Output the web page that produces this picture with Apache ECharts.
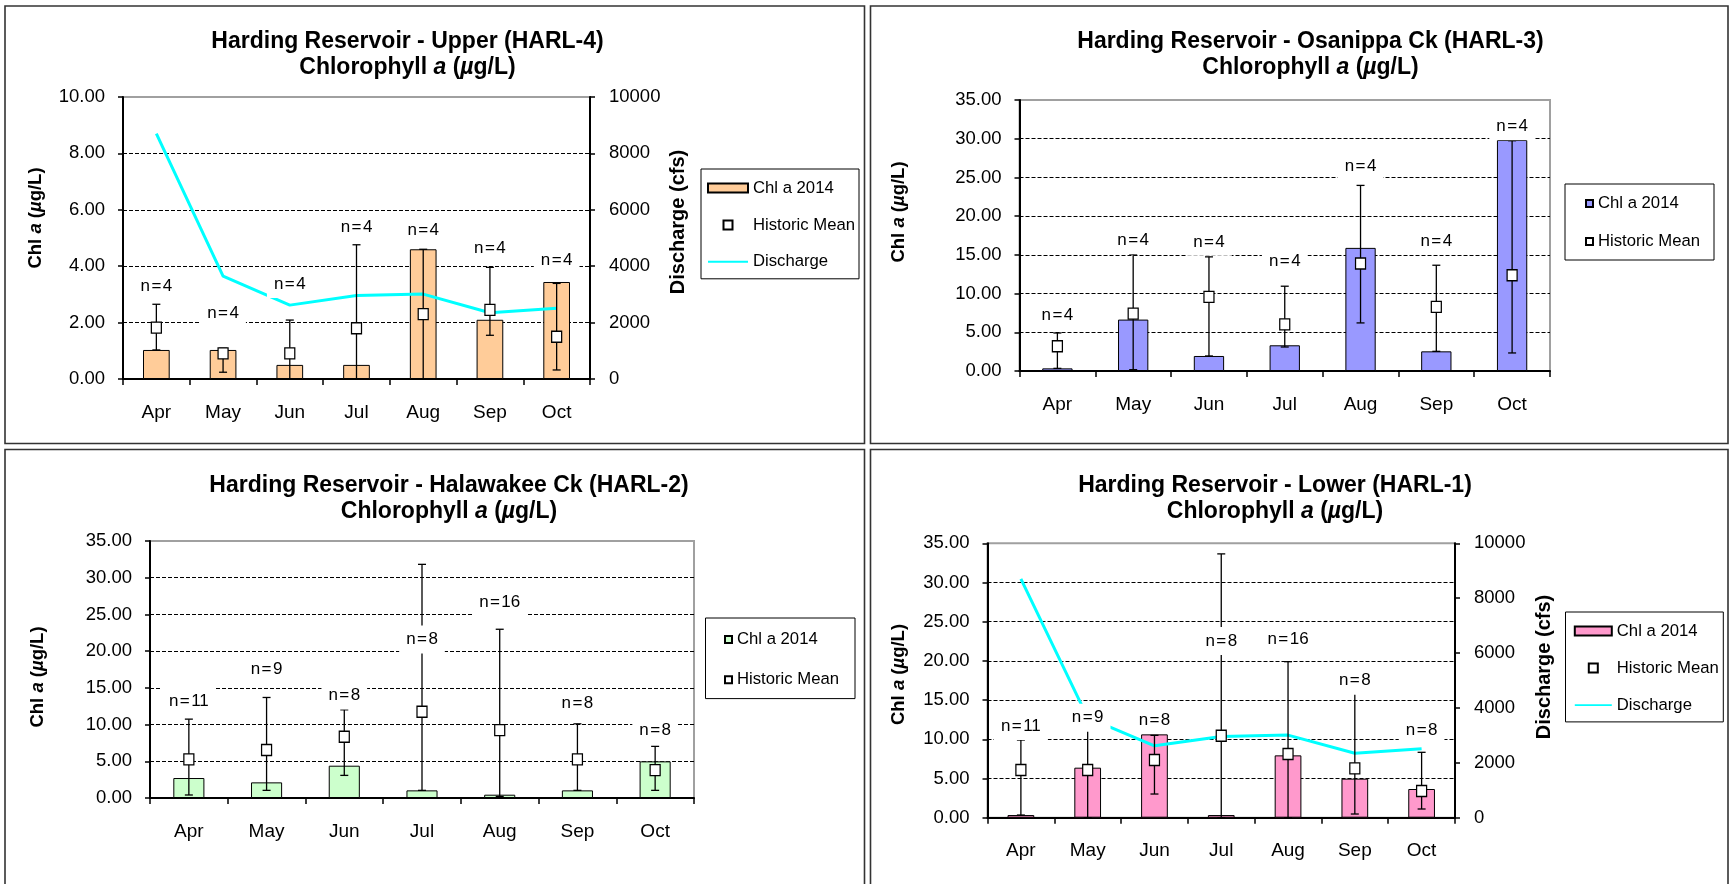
<!DOCTYPE html>
<html>
<head>
<meta charset="utf-8">
<title>Harding Reservoir Chlorophyll a</title>
<script src="https://cdn.jsdelivr.net/npm/echarts@6/dist/echarts.min.js"></script>
<style>
  html, body { margin: 0; padding: 0; background: #fff; }
  #chart { width: 1730px; height: 884px; }
</style>
</head>
<body>
<div id="chart"></div>
<script>
// ---- data -------------------------------------------------------------
const months = ['Apr', 'May', 'Jun', 'Jul', 'Aug', 'Sep', 'Oct'];

// Monthly discharge (cfs) shown on the Upper and Lower station charts
const discharge = [8700, 3650, 2620, 2960, 3010, 2350, 2510];

// HARL-4  Upper
const harl4Chl     = [1.03, 1.03, 0.50, 0.50, 4.60, 2.10, 3.44];
const harl4Mean    = [1.82, 0.91, 0.91, 1.80, 2.30, 2.45, 1.50];
const harl4Min     = [1.03, 0.24, 0.00, 0.00, 0.00, 1.55, 0.32];
const harl4Max     = [2.65, 1.09, 2.09, 4.76, 4.60, 3.96, 3.39];
const harl4N       = [4, 4, 4, 4, 4, 4, 4];
const harl4NAt     = [3.27, 2.34, 3.37, 5.38, 5.29, 4.62, 4.22];

// HARL-3  Osanippa Ck
const harl3Chl     = [0.34, 6.64, 1.94, 3.32, 15.90, 2.54, 29.83];
const harl3Mean    = [3.19, 7.41, 9.57, 6.03, 13.88, 8.28, 12.37];
const harl3Min     = [0.34, 0.17, 1.94, 3.10, 6.21, 2.54, 2.33];
const harl3Max     = [4.91, 15.09, 14.74, 10.95, 23.97, 13.66, 29.74];
const harl3N       = [4, 4, 4, 4, 4, 4, 4];
const harl3NAt     = [7.2, 16.9, 16.68, 14.22, 26.5, 16.8, 31.6];

// HARL-2  Halawakee Ck
const harl2Chl     = [2.72, 2.13, 4.40, 1.04, 0.45, 1.04, 4.99];
const harl2Mean    = [5.26, 6.53, 8.34, 11.74, 9.25, 5.26, 3.80];
const harl2Min     = [0.41, 1.04, 3.08, 1.04, 0.20, 1.04, 1.04];
const harl2Max     = [10.74, 13.69, 12.01, 31.82, 22.98, 10.10, 7.03];
const harl2N       = [11, 9, 8, 8, 16, 8, 8];
const harl2NAt     = [13.1, 17.54, 13.96, 21.6, 26.7, 12.95, 9.2];

// HARL-1  Lower
const harl1Chl     = [0.34, 6.38, 10.63, 0.34, 7.95, 4.98, 3.66];
const harl1Mean    = [6.08, 6.08, 7.36, 10.46, 8.12, 6.30, 3.40];
const harl1Min     = [0.34, 0.00, 3.02, 0.00, 0.00, 0.47, 1.11];
const harl1Max     = [9.91, 11.40, 10.50, 33.65, 19.90, 15.87, 8.34];
const harl1N       = [11, 9, 8, 8, 16, 8, 8];
const harl1NAt     = [11.7, 12.76, 12.46, 22.54, 22.8, 17.48, 11.19];

const leftTicks  = { small: { max: 10, step: 2 }, large: { max: 35, step: 5 } };
const flowTicks  = { max: 10000, step: 2000 };

// ---- layout -----------------------------------------------------------
const FONT = '"Liberation Sans", Arial, Helvetica, sans-serif';

const panels = [
  {
    title: 'Harding Reservoir - Upper (HARL-4)',
    chl: harl4Chl, mean: harl4Mean, min: harl4Min, max: harl4Max, n: harl4N, nAt: harl4NAt,
    scale: leftTicks.small, flow: true, color: '#FFCC99',
    frame: [5, 6, 859.5, 437.5],
    grid: { left: 123, top: 97, width: 467, height: 282 },
    titlePos: [407.5, 55], yNamePos: [36, 218], qNamePos: [678, 222],
    legend: { left: 701, top: 169, padding: [10.6, 4, 8.6, 6], itemGap: 19.8, itemWidth: 40, itemHeight: 9 }
  },
  {
    title: 'Harding Reservoir - Osanippa Ck (HARL-3)',
    chl: harl3Chl, mean: harl3Mean, min: harl3Min, max: harl3Max, n: harl3N, nAt: harl3NAt,
    scale: leftTicks.large, flow: false, color: '#9999FF',
    frame: [870.5, 6, 857.5, 437.5],
    grid: { left: 1019.5, top: 100, width: 530.5, height: 271 },
    titlePos: [1310.5, 55], yNamePos: [899, 212],
    legend: { left: 1565, top: 184, padding: [11, 14, 10, 20], itemGap: 21, itemWidth: 7, itemHeight: 7 }
  },
  {
    title: 'Harding Reservoir - Halawakee Ck (HARL-2)',
    chl: harl2Chl, mean: harl2Mean, min: harl2Min, max: harl2Max, n: harl2N, nAt: harl2NAt,
    scale: leftTicks.large, flow: false, color: '#CCFFCC',
    frame: [5, 449.5, 859.5, 460],
    grid: { left: 150, top: 541, width: 544, height: 257 },
    titlePos: [449, 498.5], yNamePos: [38, 677],
    legend: { left: 705.5, top: 618, padding: [13, 16, 10.3, 18.5], itemGap: 23.3, itemWidth: 7, itemHeight: 7 }
  },
  {
    title: 'Harding Reservoir - Lower (HARL-1)',
    chl: harl1Chl, mean: harl1Mean, min: harl1Min, max: harl1Max, n: harl1N, nAt: harl1NAt,
    scale: leftTicks.large, flow: true, color: '#FF99CC',
    frame: [870.5, 449.5, 857.5, 460],
    grid: { left: 987.5, top: 543.3, width: 467.5, height: 274.4 },
    titlePos: [1275, 498.5], yNamePos: [899, 674.5], qNamePos: [1544.5, 667],
    legend: { left: 1565.5, top: 612, padding: [10.6, 4.5, 8.3, 8.3], itemGap: 20, itemWidth: 37, itemHeight: 9 }
  }
];

const legendText = { chl: 'Chl a 2014', mean: 'Historic Mean', flow: 'Discharge' };
const squareIcon = 'path://M0 0H10V10H0Z';
const flowIcon = 'path://M0 0H40V2H0Z';

// ---- option -----------------------------------------------------------
const option = {
  animation: false,
  backgroundColor: '#ffffff',
  textStyle: { fontFamily: FONT },
  grid: [], xAxis: [], yAxis: [], legend: [], series: [], graphic: []
};

function errorBars(params, api) {
  const x = api.value(0);
  const lo = api.coord([x, api.value(1)]);
  const hi = api.coord([x, api.value(2)]);
  const cap = 4;
  const st = { stroke: '#000', lineWidth: 1.3 };
  return {
    type: 'group',
    children: [
      { type: 'line', shape: { x1: lo[0], y1: lo[1], x2: hi[0], y2: hi[1] }, style: st },
      { type: 'line', shape: { x1: hi[0] - cap, y1: hi[1], x2: hi[0] + cap, y2: hi[1] }, style: st },
      { type: 'line', shape: { x1: lo[0] - cap, y1: lo[1], x2: lo[0] + cap, y2: lo[1] }, style: st }
    ]
  };
}

panels.forEach((p, i) => {
  option.grid.push(Object.assign({
    show: true, borderColor: '#a0a0a0', borderWidth: 2,
    backgroundColor: 'transparent', containLabel: false, outerBoundsMode: 'none'
  }, p.grid));

  option.xAxis.push({
    type: 'category', gridIndex: i, data: months, boundaryGap: true,
    axisLine: { show: true, lineStyle: { color: '#000', width: 2 } },
    axisTick: { show: true, inside: false, length: 6, alignWithLabel: false, lineStyle: { color: '#000', width: 1.5 } },
    axisLabel: { interval: 0, margin: 24, fontSize: 19, color: '#000', fontFamily: FONT },
    splitLine: { show: false }
  });

  const leftIdx = option.yAxis.length;
  option.yAxis.push({
    type: 'value', gridIndex: i, position: 'left',
    min: 0, max: p.scale.max, interval: p.scale.step,
    axisLine: { show: true, lineStyle: { color: '#000', width: 2 } },
    axisTick: { show: true, inside: false, length: 5, lineStyle: { color: '#000', width: 1.5 } },
    axisLabel: { margin: 18, fontSize: 18.5, color: '#000', fontFamily: FONT, formatter: v => v.toFixed(2) },
    splitLine: { show: true, showMinLine: false, showMaxLine: false, lineStyle: { color: '#000', width: 1.2, type: [4, 2] } }
  });

  let rightIdx = null;
  if (p.flow) {
    rightIdx = option.yAxis.length;
    option.yAxis.push({
      type: 'value', gridIndex: i, position: 'right',
      min: 0, max: flowTicks.max, interval: flowTicks.step,
      axisLine: { show: true, lineStyle: { color: '#000', width: 2 } },
      axisTick: { show: true, inside: false, length: 5, lineStyle: { color: '#000', width: 1.5 } },
      axisLabel: { margin: 19, fontSize: 18.5, color: '#000', fontFamily: FONT, formatter: v => String(v) },
      splitLine: { show: false }
    });
  }

  option.series.push({
    name: 'chl' + i, type: 'bar', xAxisIndex: i, yAxisIndex: leftIdx,
    data: p.chl, barWidth: '40%', silent: true, z: 2,
    itemStyle: { color: p.color, borderColor: '#000', borderWidth: 1 }
  });

  if (p.flow) {
    option.series.push({
      name: 'flow' + i, type: 'line', xAxisIndex: i, yAxisIndex: rightIdx,
      data: discharge, symbol: 'none', silent: true, z: 3,
      itemStyle: { color: '#00FFFF' },
      lineStyle: { color: '#00FFFF', width: 3 }
    });
  }

  option.series.push({
    type: 'custom', xAxisIndex: i, yAxisIndex: leftIdx, silent: true, z: 4,
    encode: { x: 0, y: [1, 2] },
    data: months.map((m, k) => [k, p.min[k], p.max[k]]),
    renderItem: errorBars
  });

  option.series.push({
    name: 'mean' + i, type: 'scatter', xAxisIndex: i, yAxisIndex: leftIdx,
    data: p.mean, symbol: 'rect', symbolSize: [10, 11], silent: true, z: 5,
    itemStyle: { color: '#ffffff', borderColor: '#000', borderWidth: 1.3, opacity: 1 }
  });

  // sample-count labels on white boxes
  option.series.push({
    type: 'scatter', xAxisIndex: i, yAxisIndex: leftIdx,
    data: p.nAt, symbolSize: 1, silent: true, z: 6,
    itemStyle: { color: 'rgba(0,0,0,0)' },
    label: {
      show: true, position: 'inside',
      formatter: prm => 'n\u200a=\u200a' + p.n[prm.dataIndex],
      fontSize: 17, lineHeight: 16, color: '#000', fontFamily: FONT,
      textBorderWidth: 0, opacity: 1,
      backgroundColor: '#ffffff', padding: [6, 7]
    }
  });

  const legendData = [
    { name: 'chl' + i, icon: 'rect' },
    { name: 'mean' + i, icon: squareIcon }
  ];
  if (p.flow) legendData.push({ name: 'flow' + i, icon: flowIcon, itemStyle: { color: '#00FFFF', borderWidth: 0 } });

  option.legend.push(Object.assign({
    orient: 'vertical', align: 'left', selectedMode: false,
    backgroundColor: '#ffffff', borderColor: '#000', borderWidth: 1,
    symbolKeepAspect: true,
    textStyle: { fontSize: 16.7, color: '#000', fontFamily: FONT },
    formatter: name => legendText[name.replace(/\d+$/, '')],
    data: legendData
  }, p.legend));

  // frame around each chart
  option.graphic.push({
    type: 'rect', silent: true, z: 0,
    shape: { x: p.frame[0], y: p.frame[1], width: p.frame[2], height: p.frame[3] },
    style: { fill: 'none', stroke: '#333', lineWidth: 1.6 }
  });

  // title
  option.graphic.push({
    type: 'text', silent: true, x: p.titlePos[0], y: p.titlePos[1],
    style: {
      text: p.title + '\nChlorophyll {i|a} ({i|\u00b5}g/L)',
      fontSize: 23, fontWeight: 'bold', fontFamily: FONT, fill: '#000',
      lineHeight: 26, align: 'center', verticalAlign: 'middle',
      rich: { i: { fontSize: 23, fontWeight: 'bold', fontStyle: 'italic', fontFamily: FONT, fill: '#000', lineHeight: 26 } }
    }
  });

  // left axis name
  option.graphic.push({
    type: 'text', silent: true, x: p.yNamePos[0], y: p.yNamePos[1], rotation: Math.PI / 2,
    style: {
      text: 'Chl {i|a} ({i|\u00b5}g/L)',
      fontSize: 18.5, fontWeight: 'bold', fontFamily: FONT, fill: '#000',
      align: 'center', verticalAlign: 'middle',
      rich: { i: { fontSize: 18.5, fontWeight: 'bold', fontStyle: 'italic', fontFamily: FONT, fill: '#000' } }
    }
  });

  // right axis name
  if (p.flow) {
    option.graphic.push({
      type: 'text', silent: true, x: p.qNamePos[0], y: p.qNamePos[1], rotation: Math.PI / 2,
      style: {
        text: 'Discharge (cfs)',
        fontSize: 20, fontWeight: 'bold', fontFamily: FONT, fill: '#000',
        align: 'center', verticalAlign: 'middle'
      }
    });
  }
});

const chart = echarts.init(document.getElementById('chart'), null, { renderer: 'canvas' });
chart.setOption(option);
</script>
</body>
</html>
